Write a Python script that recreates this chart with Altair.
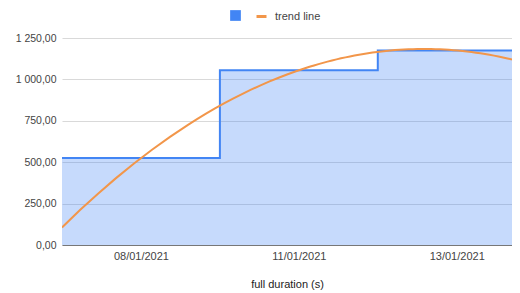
import altair as alt
import pandas as pd

# ---- data ----
cat_index = [0, 1, 2]
date_labels = ["08/01/2021", "11/01/2021", "13/01/2021"]
durations = [525, 1055, 1175]
y_ticks = [0, 250, 500, 750, 1000, 1250]

BLUE = "#4285F4"
ORANGE = "#F2964A"
FONT = "Liberation Sans"

base_df = pd.DataFrame({"idx": cat_index, "value": durations})

# stepped-area edges: each category occupies a band centred on its index
step_x = [i - 0.5 for i in cat_index] + [cat_index[-1] + 0.5]
step_y = durations + [durations[-1]]
step_df = pd.DataFrame({"x": step_x, "y": step_y, "series": " "})

x_dom = [-0.5, 2.35]
label_expr = "[" + ",".join(f"'{d}'" for d in date_labels) + "][datum.value]"

x_axis = alt.Axis(
    values=cat_index, labelExpr=label_expr, grid=False, ticks=False,
    domain=True, domainColor="#777", labelFont=FONT, labelFontSize=11,
    labelColor="#444", labelPadding=5, title="full duration (s)",
    titleFont=FONT, titleFontSize=11, titleFontWeight="normal",
    titleColor="#222", titlePadding=17,
)
y_axis = alt.Axis(
    values=y_ticks, title=None, domain=False, ticks=False, grid=True,
    gridColor="#d9d9d9", labelFont=FONT, labelFontSize=10.5, labelColor="#444",
    labelPadding=6,
    labelExpr="replace(replace(format(datum.value, ',.2f'), ',', ' '), '.', ',')",
)

xs = alt.Scale(domain=x_dom, nice=False, zero=False)
ys = alt.Scale(domain=[0, 1250], nice=False)

area = alt.Chart(step_df).mark_area(
    interpolate="step-after", color=BLUE, fillOpacity=0.3, clip=True
).encode(
    x=alt.X("x:Q", scale=xs, axis=x_axis),
    y=alt.Y("y:Q", scale=ys, axis=y_axis),
)

step_line = alt.Chart(step_df).mark_line(
    interpolate="step-after", strokeWidth=2, clip=True
).encode(
    x=alt.X("x:Q", scale=xs),
    y=alt.Y("y:Q", scale=ys),
    color=alt.Color(
        "series:N",
        scale=alt.Scale(domain=[" "], range=[BLUE]),
        legend=alt.Legend(
            orient="none", legendX=168, legendY=-28, title=None,
            symbolType="square", symbolSize=115, symbolFillColor=BLUE,
            symbolStrokeWidth=0, padding=0, labelFontSize=11,
        ),
    ),
)

trend = alt.Chart(base_df).transform_regression(
    "idx", "value", method="poly", order=2, extent=x_dom
).transform_calculate(series="'trend line'").mark_line(
    strokeWidth=2, clip=True
).encode(
    x=alt.X("idx:Q", scale=xs),
    y=alt.Y("value:Q", scale=ys),
    color=alt.Color(
        "series:N",
        scale=alt.Scale(domain=["trend line"], range=[ORANGE]),
        legend=alt.Legend(
            orient="none", legendX=193, legendY=-28, title=None,
            symbolType="stroke", symbolSize=100, symbolStrokeWidth=3,
            labelOffset=7, labelFont=FONT, labelFontSize=11,
            labelColor="#444", padding=0,
        ),
    ),
)

chart = alt.layer(area, step_line, trend).resolve_scale(
    color="independent"
).properties(
    width=450, height=207,
    autosize=alt.AutoSizeParams(type="none"),
    padding={"left": 54, "top": 30, "right": 0, "bottom": 48},
).configure_view(stroke=None)

chart.save("out.html", embed_options={"renderer": "svg", "actions": False})
